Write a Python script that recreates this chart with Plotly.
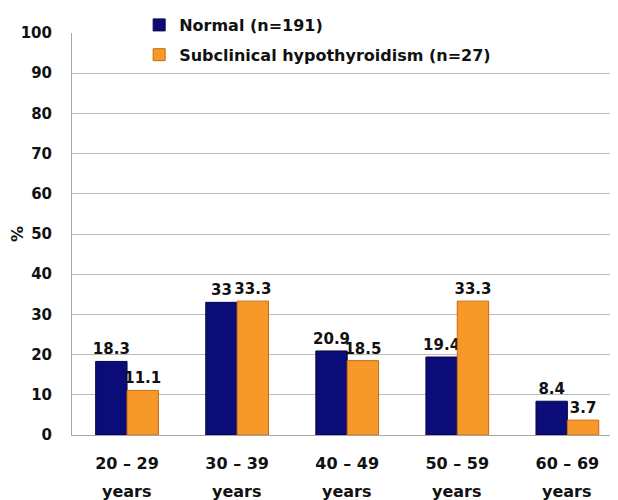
import plotly.graph_objects as go

categories = ["20 – 29", "30 – 39", "40 – 49", "50 – 59", "60 – 69"]
sublabels = ["years", "years", "years", "years", "years"]
normal = [18.3, 33.0, 20.9, 19.4, 8.4]
subclinical = [11.1, 33.3, 18.5, 33.3, 3.7]
normal_text = ["18.3", "33", "20.9", "19.4", "8.4"]
subclinical_text = ["11.1", "33.3", "18.5", "33.3", "3.7"]
series_names = ["Normal (n=191)", "Subclinical hypothyroidism (n=27)"]

FONT = "DejaVu Sans"

fig = go.Figure()
fig.add_trace(go.Bar(
    x=categories, y=normal, name=series_names[0], legendgroup="a",
    marker=dict(color="#0c0c78", line=dict(color="#05054a", width=1)),
    text=normal_text, textposition="outside", cliponaxis=False, constraintext="none",
    textfont=dict(family=FONT, size=15, color="#111111", weight="bold"),
))
fig.add_trace(go.Bar(
    x=categories, y=subclinical, name=series_names[1], legendgroup="b",
    marker=dict(color="#f7982a", line=dict(color="#c86a12", width=1)),
    text=subclinical_text, textposition="outside", cliponaxis=False, constraintext="none",
    textfont=dict(family=FONT, size=15, color="#111111", weight="bold"),
))

for c, s in zip(categories, sublabels):
    fig.add_annotation(x=c, y=0, xref="x", yref="paper", yshift=-56,
                       yanchor="middle", text=s, showarrow=False,
                       font=dict(family=FONT, size=16, color="#111111", weight="bold"))

fig.update_layout(
    width=610, height=492,
    margin=dict(l=64, r=0, t=25, b=65, autoexpand=False),
    plot_bgcolor="white", paper_bgcolor="white",
    barmode="group", bargap=0.43, bargroupgap=0,
    showlegend=True,
    legend=dict(x=0.123, y=1.022, xref="paper", yref="container",
                xanchor="left", yanchor="top",
                bgcolor="rgba(0,0,0,0)", tracegroupgap=6,
                font=dict(family=FONT, size=16, color="#111111", weight="bold")),
    font=dict(family=FONT, color="#111111"),
    xaxis=dict(range=[-0.5, 4.46], showline=True, linecolor="#a6a6a6", linewidth=1,
               ticks="", ticklabelstandoff=14,
               tickfont=dict(family=FONT, size=16, color="#111111", weight="bold")),
    yaxis=dict(range=[0, 100], dtick=10, showline=True, linecolor="#a6a6a6", linewidth=1,
               showgrid=True, gridcolor="#bcbcbc", gridwidth=1, zeroline=False,
               ticks="", ticklabelstandoff=16,
               tickfont=dict(family=FONT, size=15, color="#111111", weight="bold"),
               title=dict(text="%", standoff=2,
                          font=dict(family=FONT, size=16, color="#111111", weight="bold"))),
)

fig.write_html("out.html")
